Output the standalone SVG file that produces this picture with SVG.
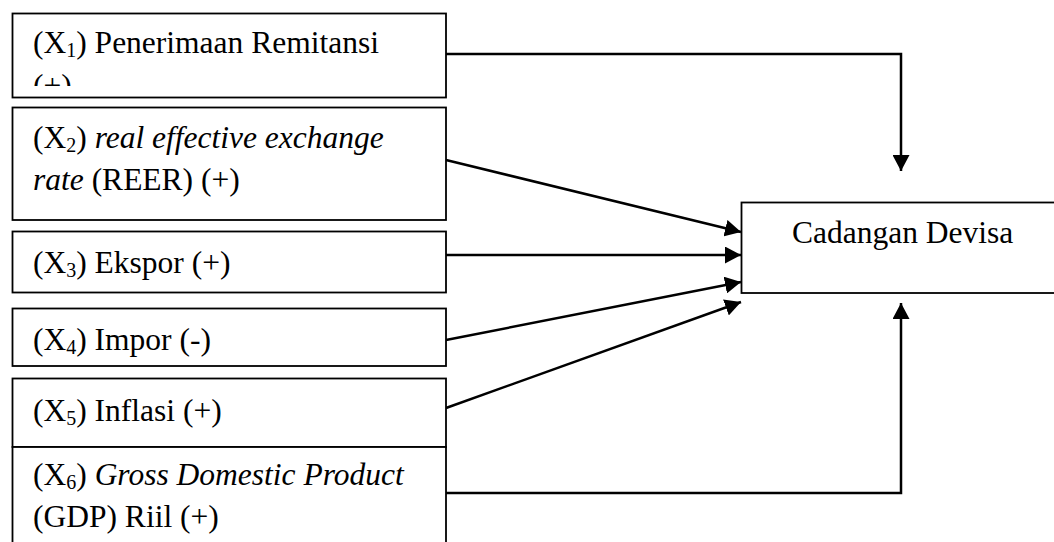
<svg xmlns="http://www.w3.org/2000/svg" width="1054" height="542" viewBox="0 0 1054 542">
<style>
.box{fill:#fff;stroke:#000;stroke-width:1.8}
.t{font-family:"Liberation Serif","Times New Roman",serif;font-size:31.5px;fill:#000}
.i{font-style:italic}
.sub{font-size:20px}
.c{fill:none;stroke:#000;stroke-width:2.5}
</style>
<defs>
<marker id="ah" markerUnits="userSpaceOnUse" markerWidth="17" markerHeight="17" refX="16" refY="8.5" orient="auto">
<path d="M0,0 L16,8.5 L0,17 z" fill="#000"/>
</marker>
<clipPath id="c1"><rect x="12" y="13" width="434" height="73"/></clipPath>
</defs>
<rect width="1054" height="542" fill="#fff"/>
<g id="connectors">
<polyline class="c" points="446,54 901,54 901,171" marker-end="url(#ah)"/>
<line class="c" x1="446" y1="160" x2="741" y2="232" marker-end="url(#ah)"/>
<line class="c" x1="446" y1="255" x2="741" y2="255" marker-end="url(#ah)"/>
<line class="c" x1="446" y1="340" x2="741" y2="282" marker-end="url(#ah)"/>
<line class="c" x1="446" y1="408" x2="741" y2="302" marker-end="url(#ah)"/>
<polyline class="c" points="446,493 901,493 901,303" marker-end="url(#ah)"/>
</g>
<g id="x1">
<rect class="box" x="12.5" y="13.5" width="433.5" height="84"/>
<g clip-path="url(#c1)">
<text class="t" x="33" y="53">(X<tspan class="sub" dy="4">1</tspan><tspan dy="-4">) Penerimaan Remitansi</tspan></text>
<text class="t" x="33" y="96">(+)</text>
</g>
</g>
<g id="x2">
<rect class="box" x="12.5" y="107.5" width="433.5" height="112.5"/>
<text class="t" x="33" y="148">(X<tspan class="sub" dy="4">2</tspan><tspan dy="-4">) </tspan><tspan class="i">real effective exchange</tspan></text>
<text class="t" x="33" y="190"><tspan class="i">rate</tspan> (REER) (+)</text>
</g>
<g id="x3">
<rect class="box" x="12.5" y="231.5" width="433.5" height="61"/>
<text class="t" x="33" y="273">(X<tspan class="sub" dy="4">3</tspan><tspan dy="-4">) Ekspor (+)</tspan></text>
</g>
<g id="x4">
<rect class="box" x="12.5" y="308.5" width="433.5" height="57.5"/>
<text class="t" x="33" y="350">(X<tspan class="sub" dy="4">4</tspan><tspan dy="-4">) Impor (-)</tspan></text>
</g>
<g id="x5">
<rect class="box" x="12.5" y="378.5" width="433.5" height="68.5"/>
<text class="t" x="33" y="421">(X<tspan class="sub" dy="4">5</tspan><tspan dy="-4">) Inflasi (+)</tspan></text>
</g>
<g id="x6">
<rect class="box" x="12.5" y="447" width="433.5" height="110"/>
<text class="t" x="33" y="485">(X<tspan class="sub" dy="4">6</tspan><tspan dy="-4">) </tspan><tspan class="i">Gross Domestic Product</tspan></text>
<text class="t" x="33" y="527">(GDP) Riil (+)</text>
</g>
<g id="y">
<rect class="box" x="741.5" y="202.5" width="330" height="90.5"/>
<text class="t" x="792" y="243" style="font-size:31.5px">Cadangan Devisa</text>
</g>
</svg>
